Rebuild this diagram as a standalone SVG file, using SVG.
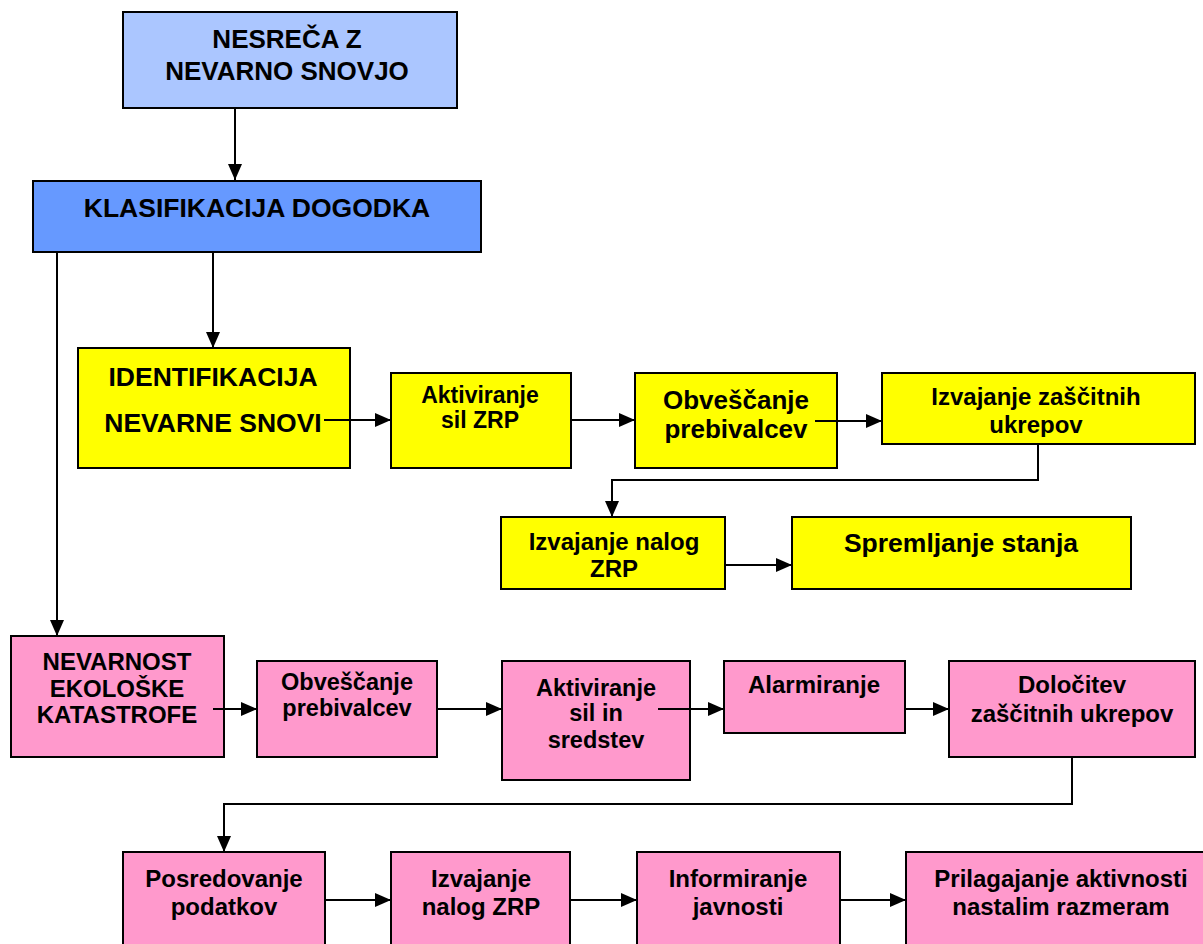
<svg xmlns="http://www.w3.org/2000/svg" width="1203" height="944" viewBox="0 0 1203 944">
<style>
.b{stroke:#000;stroke-width:2}
.lb{fill:#ABC6FF}
.db{fill:#6699FF}
.y{fill:#FFFF00}
.p{fill:#FF99CC}
text{font-family:"Liberation Sans",Arial,sans-serif;font-weight:bold;fill:#000;text-anchor:middle}
.c{fill:none;stroke:#000;stroke-width:2}
</style>
<defs>
<marker id="a" markerUnits="userSpaceOnUse" markerWidth="16" markerHeight="14" refX="16" refY="7" orient="auto">
<path d="M0,0 L16,7 L0,14 z" fill="#000"/>
</marker>
<clipPath id="clipIz"><rect x="882" y="373" width="313" height="64"/></clipPath>
</defs>
<rect width="1203" height="944" fill="#fff"/>
<g id="n1"><rect class="b lb" x="123" y="12" width="334" height="96"/>
<text x="287" y="48" font-size="26">NESREČA Z</text><text x="287" y="80" font-size="26">NEVARNO SNOVJO</text></g>
<g id="n2"><rect class="b db" x="33" y="181" width="448" height="71"/>
<text x="257" y="217" font-size="26.5">KLASIFIKACIJA DOGODKA</text></g>
<g id="n3"><rect class="b y" x="78" y="348" width="272" height="120"/>
<text x="213" y="386" font-size="26.5">IDENTIFIKACIJA</text><text x="213" y="432" font-size="26.5">NEVARNE SNOVI</text></g>
<g id="n4"><rect class="b y" x="391" y="373" width="180" height="95"/>
<text x="480" y="403" font-size="23">Aktiviranje</text><text x="480" y="428" font-size="23">sil ZRP</text></g>
<g id="n5"><rect class="b y" x="635" y="373" width="202" height="95"/>
<text x="736" y="409" font-size="26">Obveščanje</text><text x="736" y="438" font-size="26">prebivalcev</text></g>
<g id="n6"><rect class="b y" x="882" y="373" width="313" height="71"/>
<g clip-path="url(#clipIz)"><text x="1036" y="405" font-size="24">Izvajanje zaščitnih</text><text x="1036" y="433" font-size="24">ukrepov</text></g></g>
<g id="n7"><rect class="b y" x="501" y="517" width="224" height="72"/>
<text x="614" y="550" font-size="24">Izvajanje nalog</text><text x="614" y="577" font-size="24">ZRP</text></g>
<g id="n8"><rect class="b y" x="792" y="517" width="339" height="72"/>
<text x="961" y="552" font-size="26.5">Spremljanje stanja</text></g>
<g id="n9"><rect class="b p" x="11" y="636" width="213" height="121"/>
<text x="117" y="670" font-size="24">NEVARNOST</text><text x="117" y="697" font-size="24">EKOLOŠKE</text><text x="117" y="723" font-size="24">KATASTROFE</text></g>
<g id="n10"><rect class="b p" x="257" y="661" width="180" height="96"/>
<text x="347" y="690" font-size="23.5">Obveščanje</text><text x="347" y="716" font-size="23.5">prebivalcev</text></g>
<g id="n11"><rect class="b p" x="502" y="661" width="188" height="119"/>
<text x="596" y="696" font-size="23.5">Aktiviranje</text><text x="596" y="721" font-size="23.5">sil in</text><text x="596" y="748" font-size="23.5">sredstev</text></g>
<g id="n12"><rect class="b p" x="724" y="661" width="181" height="72"/>
<text x="814" y="693" font-size="24">Alarmiranje</text></g>
<g id="n13"><rect class="b p" x="949" y="661" width="246" height="96"/>
<text x="1072" y="693" font-size="24">Določitev</text><text x="1072" y="722" font-size="24">zaščitnih ukrepov</text></g>
<g id="n14"><rect class="b p" x="123" y="852" width="202" height="110"/>
<text x="224" y="887" font-size="24">Posredovanje</text><text x="224" y="915" font-size="24">podatkov</text></g>
<g id="n15"><rect class="b p" x="391" y="852" width="179" height="110"/>
<text x="481" y="887" font-size="24">Izvajanje</text><text x="481" y="915" font-size="24">nalog ZRP</text></g>
<g id="n16"><rect class="b p" x="637" y="852" width="203" height="110"/>
<text x="738" y="887" font-size="24">Informiranje</text><text x="738" y="915" font-size="24">javnosti</text></g>
<g id="n17"><rect class="b p" x="906" y="852" width="310" height="110"/>
<text x="1061" y="887" font-size="24">Prilagajanje aktivnosti</text><text x="1061" y="915" font-size="24">nastalim razmeram</text></g>
<g id="connectors">
<path class="c" d="M235,108 V180" marker-end="url(#a)"/>
<path class="c" d="M213,252 V348" marker-end="url(#a)"/>
<path class="c" d="M57,252 V636" marker-end="url(#a)"/>
<path class="c" d="M324,420 H391" marker-end="url(#a)"/>
<path class="c" d="M571,420 H635" marker-end="url(#a)"/>
<path class="c" d="M815,421 H882" marker-end="url(#a)"/>
<path class="c" d="M1038,444 V480 H612 V517" marker-end="url(#a)"/>
<path class="c" d="M725,565 H792" marker-end="url(#a)"/>
<path class="c" d="M213,709 H257" marker-end="url(#a)"/>
<path class="c" d="M437,709 H502" marker-end="url(#a)"/>
<path class="c" d="M658,709 H724" marker-end="url(#a)"/>
<path class="c" d="M905,709 H949" marker-end="url(#a)"/>
<path class="c" d="M1072,757 V804 H224 V852" marker-end="url(#a)"/>
<path class="c" d="M325,900 H391" marker-end="url(#a)"/>
<path class="c" d="M570,900 H637" marker-end="url(#a)"/>
<path class="c" d="M840,900 H906" marker-end="url(#a)"/>
</g>
</svg>
